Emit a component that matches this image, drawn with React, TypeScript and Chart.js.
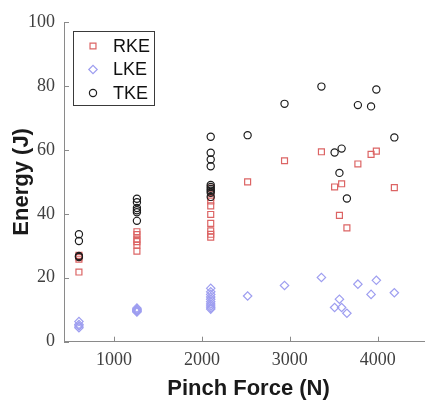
import React, { useEffect, useRef } from "react";
import { Chart, registerables } from "chart.js";
import { drawPoint } from "chart.js/helpers";

Chart.register(...registerables);

// Trials grouped by applied pinch force (N)
const pinchForce = [
  600, 600, 600, 600,
  1260, 1260, 1260, 1260, 1260, 1260,
  2100, 2100, 2100, 2100, 2100, 2100, 2100, 2100, 2100, 2100,
  2520, 2940, 3360, 3510, 3590, 3565, 3650, 3775, 3925, 3985, 4190,
];

// Rotational kinetic energy (J)
const rke = [
  27.0, 26.4, 25.8, 21.8,
  34.4, 33.5, 32.1, 31.3, 30.2, 28.3,
  48.0, 46.6, 45.1, 44.0, 42.5, 39.8, 37.0, 34.7, 33.6, 32.7,
  50.0, 56.6, 59.4, 48.4, 49.4, 39.5, 35.6, 55.6, 58.6, 59.6, 48.2,
];

// Linear kinetic energy (J)
const lke = [
  6.3, 5.4, 4.9, 4.4,
  10.5, 10.1, 9.9, 9.7, 9.5, 9.3,
  16.7, 15.6, 14.8, 14.0, 13.3, 12.5, 11.8, 11.2, 10.6, 10.2,
  14.3, 17.6, 20.1, 10.7, 10.7, 13.3, 8.9, 18.0, 14.8, 19.2, 15.3,
];

// Total kinetic energy (J)
const tke = [
  33.6, 31.5, 26.8, 26.5,
  44.7, 43.6, 41.8, 41.1, 40.5, 37.8,
  64.1, 59.1, 57.0, 54.9, 49.0, 48.4, 47.8, 47.2, 46.6, 45.3,
  64.6, 74.4, 79.8, 59.2, 60.4, 52.8, 44.8, 74.0, 73.6, 78.9, 63.9,
];

const xTicks = [1000, 2000, 3000, 4000];
const yTicks = [0, 20, 40, 60, 80, 100];
const seriesNames = ["RKE", "LKE", "TKE"];

const RED = "rgb(220,100,100)";
const BLUE = "rgb(158,158,240)";
const BLACK = "#1e1e1e";
const AXIS = "#8a8a8a";

const toPoints = (ys: number[]) => ys.map((y, i) => ({ x: pinchForce[i], y }));

const markerStyles = [
  { pointStyle: "rect", radius: 4.2, color: RED },
  { pointStyle: "rectRot", radius: 4.2, color: BLUE },
  { pointStyle: "circle", radius: 3.6, color: BLACK },
];

// Inward tick marks, MATLAB style
const inwardTicks = {
  id: "inwardTicks",
  afterDatasetsDraw(chart: any) {
    const { ctx, chartArea, scales } = chart;
    ctx.save();
    ctx.strokeStyle = AXIS;
    ctx.lineWidth = 1;
    ctx.beginPath();
    for (const v of xTicks) {
      const px = Math.round(scales.x.getPixelForValue(v)) + 0.5;
      ctx.moveTo(px, chartArea.bottom);
      ctx.lineTo(px, chartArea.bottom - 5);
    }
    for (const v of yTicks) {
      const py = Math.round(scales.y.getPixelForValue(v)) + 0.5;
      ctx.moveTo(chartArea.left, py);
      ctx.lineTo(chartArea.left + 5, py);
    }
    ctx.stroke();
    ctx.restore();
  },
};

// Boxed legend inside the upper-left corner of the plot
const boxedLegend = {
  id: "boxedLegend",
  afterDraw(chart: any) {
    const { ctx, chartArea } = chart;
    const x0 = chartArea.left + 9;
    const y0 = chartArea.top + 9;
    const w = 81;
    const h = 74;
    const rowH = 23.5;
    ctx.save();
    ctx.fillStyle = "#fff";
    ctx.fillRect(x0, y0, w, h);
    ctx.strokeStyle = "#3a3a3a";
    ctx.lineWidth = 1;
    ctx.strokeRect(Math.round(x0) + 0.5, Math.round(y0) + 0.5, w, h);
    ctx.font = "18px 'Liberation Sans', Arial, sans-serif";
    ctx.textBaseline = "middle";
    ctx.textAlign = "left";
    seriesNames.forEach((name, i) => {
      const cy = y0 + 15 + i * rowH;
      const m = markerStyles[i];
      ctx.strokeStyle = m.color;
      ctx.fillStyle = "transparent";
      ctx.lineWidth = 1.2;
      drawPoint(ctx, { pointStyle: m.pointStyle as any, radius: m.radius, rotation: 0, borderWidth: 1.2 }, x0 + 20, cy);
      ctx.fillStyle = "#111";
      ctx.fillText(name, x0 + 40, cy + 1);
    });
    ctx.restore();
  },
};

export default function App() {
  const canvasRef = useRef<HTMLCanvasElement | null>(null);

  useEffect(() => {
    const canvas = canvasRef.current;
    if (!canvas) return;
    const series = [rke, lke, tke];
    const chart = new Chart(canvas, {
      type: "scatter",
      data: {
        datasets: series.map((ys, i) => ({
          label: seriesNames[i],
          data: toPoints(ys),
          pointStyle: markerStyles[i].pointStyle as any,
          pointRadius: markerStyles[i].radius,
          pointBorderWidth: 1.2,
          pointBorderColor: markerStyles[i].color,
          pointBackgroundColor: "rgba(0,0,0,0)",
          order: 2 - i,
        })),
      },
      options: {
        responsive: false,
        animation: false,
        layout: { padding: { top: 22, right: 7, bottom: 0, left: 0 } },
        plugins: {
          legend: { display: false },
          tooltip: { enabled: false },
        },
        scales: {
          x: {
            type: "linear",
            min: 430,
            max: 4630,
            afterBuildTicks: (s: any) => {
              s.ticks = xTicks.map((value) => ({ value }));
            },
            afterFit: (s: any) => {
              s.height = 58.3;
            },
            grid: { display: false, drawTicks: false },
            border: { display: true, color: AXIS, width: 1 },
            ticks: {
              padding: 8,
              color: "#404040",
              font: { family: "'Liberation Serif', 'Times New Roman', serif", size: 18 },
              callback: (v: any) => String(v),
            },
            title: {
              display: true,
              text: "Pinch Force (N)",
              color: "#1a1a1a",
              padding: { top: 0, bottom: 0 },
              font: { family: "'Liberation Sans', Arial, sans-serif", size: 22, weight: "bold", lineHeight: 1 },
            },
          },
          y: {
            type: "linear",
            min: 0,
            max: 100,
            afterBuildTicks: (s: any) => {
              s.ticks = yTicks.map((value) => ({ value }));
            },
            afterFit: (s: any) => {
              s.width = 64;
            },
            grid: { display: false, drawTicks: false },
            border: { display: true, color: AXIS, width: 1 },
            ticks: {
              padding: 9,
              color: "#404040",
              font: { family: "'Liberation Serif', 'Times New Roman', serif", size: 18 },
            },
            title: {
              display: true,
              text: "Energy (J)",
              color: "#1a1a1a",
              padding: { top: 11, bottom: 0 },
              font: { family: "'Liberation Sans', Arial, sans-serif", size: 22, weight: "bold", lineHeight: 1 },
            },
          },
        },
      },
      plugins: [inwardTicks, boxedLegend],
    });
    return () => chart.destroy();
  }, []);

  return (
    <div
      style={{
        position: "fixed",
        left: 0,
        top: 0,
        width: 425,
        height: 400,
        overflow: "hidden",
        background: "#fff",
      }}
    >
      <canvas ref={canvasRef} width={440} height={400} style={{ display: "block", width: 440, height: 400 }} />
    </div>
  );
}
